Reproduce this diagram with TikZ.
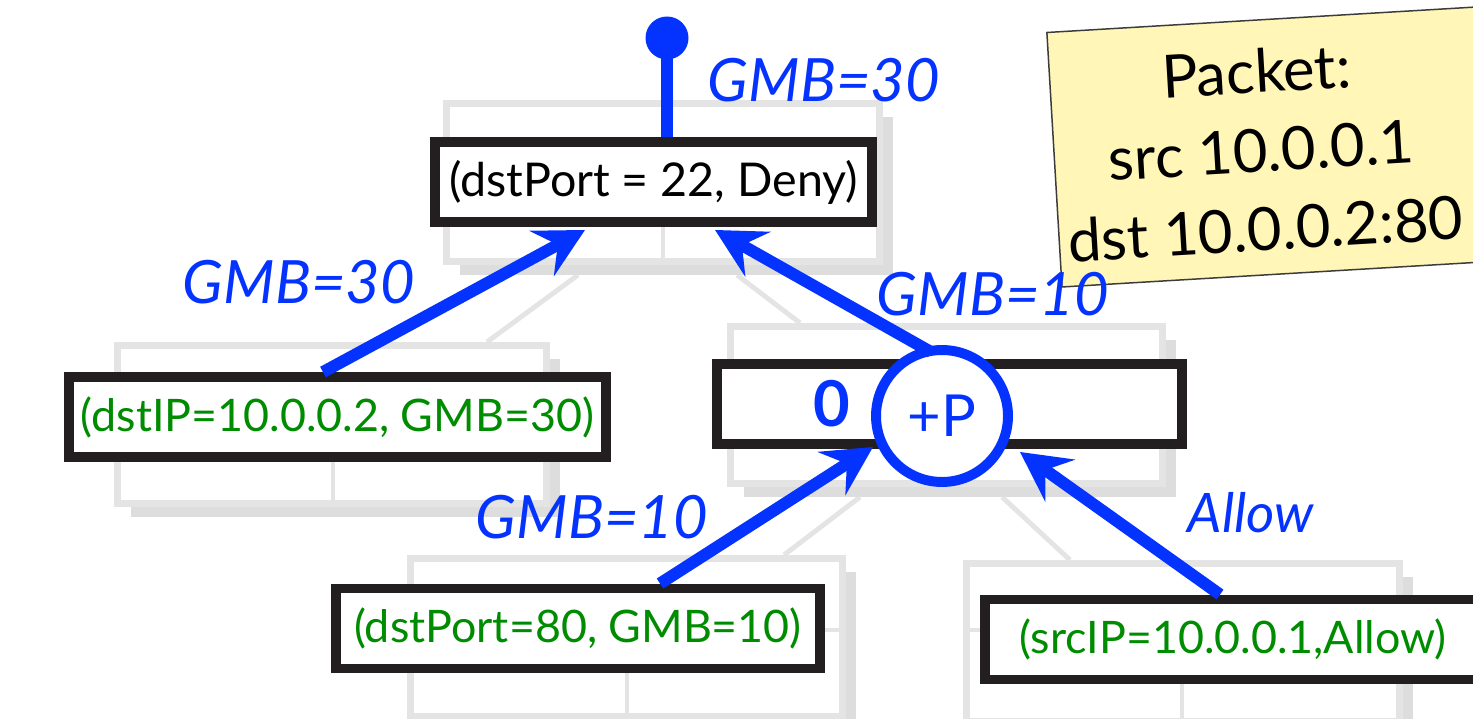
\documentclass[tikz,border=0pt]{standalone}
\usepackage{fontspec}
\setmainfont{Lato}
\usetikzlibrary{arrows.meta,calc}
\definecolor{tblue}{RGB}{4,51,255}
\definecolor{tgreen}{RGB}{0,140,0}
\definecolor{tblack}{RGB}{35,31,32}
\definecolor{gline}{RGB}{228,228,228}
\definecolor{gshade}{RGB}{221,221,221}
\definecolor{notefill}{RGB}{255,246,183}
\definecolor{noteedge}{RGB}{60,60,60}
\tikzset{
  treeframe/.style={draw=gline, line width=3.97pt, fill=white},
  treeshadow/.style={fill=gshade},
  treerule/.style={draw=gline, line width=2.3pt},
  treelink/.style={draw=gline, line width=2.8pt},
  rulebox/.style={draw=tblack, line width=5.67pt, fill=white, inner sep=0pt, minimum height=1.6cm},
  ruletext/.style={text=black, font=\fontsize{26.5}{30}\selectfont},
  leaftext/.style={text=tgreen, font=\fontsize{25.5}{30}\selectfont},
  flow/.style={draw=tblue, line width=6.8pt, -{Stealth[length=0.98cm, width=1.02cm, inset=0.36cm]}},
  flowlabel/.style={text=tblue, font=\fontsize{34}{40}\selectfont\itshape, inner sep=0pt},
  notebox/.style={rotate=3.4, fill=notefill, draw=noteedge, line width=0.85pt, inner sep=0pt},
  notetext/.style={rotate=3.4, align=center, inner sep=0pt, font=\fontsize{34}{45}\selectfont},
}
\newcommand\treenode[6]{%
  \path[treeshadow] (#1+17,#2+17) rectangle (#3+10,#4+10);
  \path[treeframe] (#1+3.5,#2+3.5) rectangle (#3-3.5,#4-3.5);
  \path[treerule] (#1+3.5,#5) -- (#3-3.5,#5) (#6,#5) -- (#6,#4-3.5);
}
\begin{document}
\begin{tikzpicture}[x=0.02cm,y=-0.02cm]
\path[use as bounding box] (0,0) rectangle (1473,719);
\clip (0,0) rectangle (1473,719);
% background tree
\path[treelink] (578,275) -- (487,342) (737,275) -- (800,323) (860,497) -- (784,555) (1002,497) -- (1070,560);
\treenode{443}{100}{883}{265}{172}{663}
\treenode{114}{342}{550}{507}{414}{333}
\treenode{727}{323}{1166}{487}{395}{946}
\treenode{407}{555}{846}{720}{630}{627}
\treenode{963}{560}{1403}{725}{630}{1182}
% rule boxes
\node[rulebox, ruletext, minimum width=8.74cm] (topbox) at (653.5,182) {(dstPort = 22, Deny)};
\node[rulebox, leaftext, minimum width=10.74cm] (dstip) at (337.5,417) {(dstIP=10.0.0.2, GMB=30)};
\node[rulebox, minimum width=9.3cm] (midbox) at (949.5,404) {};
\node[rulebox, leaftext, minimum width=9.68cm] (dport) at (578,628.5) {(dstPort=80, GMB=10)};
\node[rulebox, leaftext, minimum width=9.92cm] (srcip) at (1233,639.5) {(srcIP=10.0.0.1,Allow)};
% packet note
\node[notebox, minimum width=8.6cm, minimum height=5.1cm] (packet) at (1269,147) {};
\node[notetext] (packettext) at (1261,150) {Packet:\\src 10.0.0.1\\dst 10.0.0.2:80};
% plus node and zero
\node[circle, draw=tblue, line width=5.67pt, fill=white, minimum size=2.64cm, inner sep=0pt, text=tblue, font=\fontsize{33}{40}\selectfont] (plus) at (942,416) {+P};
\node[text=tblue, font=\fontsize{36}{40}\selectfont\bfseries, inner sep=0pt] (zero) at (832,404) {0};
% pin
\node[circle, fill=tblue, minimum size=0.86cm, inner sep=0pt] (pin) at (667,38) {};
\draw[tblue, line width=6.8pt] (pin.center) -- (pin.center |- topbox.north);
% arrows
\draw[flow] ($(dstip.north)+(-14.5,0)$) -- ($(topbox.south)+(-68.5,3)$);
\draw[flow] ($(plus.center)+(-11,-64)$) -- ($(topbox.south)+(61.5,3)$);
\draw[flow] ($(dport.north)+(82,0)$) -- ($(midbox.south)+(-76.5,-2)$);
\draw[flow] ($(srcip.north)+(-13,0)$) -- ($(midbox.south)+(70.5,3)$);
% labels
\node[flowlabel] (lab1) at (824,80) {GMB=30};
\node[flowlabel] (lab2) at (299,282) {GMB=30};
\node[flowlabel] (lab3) at (993,294) {GMB=10};
\node[flowlabel] (lab4) at (592,517) {GMB=10};
\node[flowlabel, font=\fontsize{31}{40}\selectfont\itshape] (lab5) at (1251,513) {Allow};
\end{tikzpicture}
\end{document}
